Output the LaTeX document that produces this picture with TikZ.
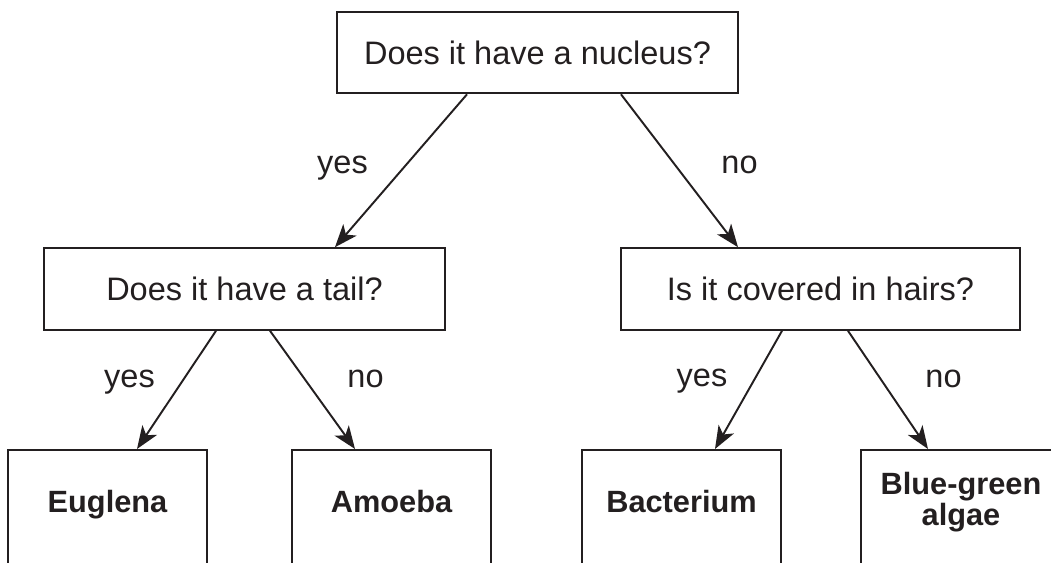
\documentclass[tikz,border=0pt]{standalone}
\usepackage{fontspec}
\setmainfont{Liberation Sans}
\usetikzlibrary{arrows.meta,positioning}
\definecolor{ink}{HTML}{231F20}
\tikzset{quest/.style={draw=ink,line width=1.2pt,minimum width=8.02cm,minimum height=1.63cm,inner sep=0pt,font=\fontsize{18.5}{22}\selectfont,text=ink},leaf/.style={draw=ink,line width=1.2pt,minimum width=3.98cm,minimum height=4cm,anchor=north,inner sep=0pt},leaftxt/.style={font=\fontsize{17.5}{16}\selectfont\bfseries,text=ink,align=center,inner sep=0pt},arr/.style={-{Stealth[length=13pt,width=10pt,inset=3.5pt]},draw=ink,line width=1.1pt},ans/.style={font=\fontsize{18.5}{22}\selectfont,text=ink,anchor=base,inner sep=0pt}}

\begin{document}
\begin{tikzpicture}[x=0.02cm,y=-0.02cm]
\clip (0,0) rectangle (1051,562);
% questions
\node[quest] (nuc) at (537.5,52.5) {Does it have a nucleus?};
\node[quest] (tail) at (244.5,289) {Does it have a tail?};
\node[quest,minimum width=7.98cm] (hair) at (820.5,289) {Is it covered in hairs?};
% answers
\node[leaf] (eug) at (107.5,449) {};
\node[leaf] (amo) at (391.5,449) {};
\node[leaf] (bac) at (681.5,449) {};
\node[leaf] (alg) at (960.5,449) {};
\node[leaftxt,anchor=base] (eugT) at (107.5,512) {Euglena};
\node[leaftxt,anchor=base] (amoT) at (391.5,512) {Amoeba};
\node[leaftxt,anchor=base] (bacT) at (681.5,512) {Bacterium};
\node[leaftxt,anchor=north] (algT) at (961,472) {Blue-green\\algae};
% arrows
\draw[arr] ([xshift=-1.41cm]nuc.south)--([xshift=1.81cm]tail.north);
\draw[arr] ([xshift=1.67cm]nuc.south)--([xshift=-1.65cm]hair.north);
\draw[arr] ([xshift=-0.57cm]tail.south)--([xshift=0.59cm]eug.north);
\draw[arr] ([xshift=0.51cm]tail.south)--([xshift=-0.73cm]amo.north);
\draw[arr] ([xshift=-0.77cm]hair.south)--([xshift=0.67cm]bac.north);
\draw[arr] ([xshift=0.55cm]hair.south)--([xshift=-0.65cm]alg.north);
\node[ans] (y1) at (342.5,173) {yes};
\node[ans] (n1) at (739.5,173) {no};
\node[ans] (y2) at (129.5,387) {yes};
\node[ans] (n2) at (365.5,387) {no};
\node[ans] (y3) at (702,386) {yes};
\node[ans] (n3) at (943.5,387) {no};
\end{tikzpicture}
\end{document}
